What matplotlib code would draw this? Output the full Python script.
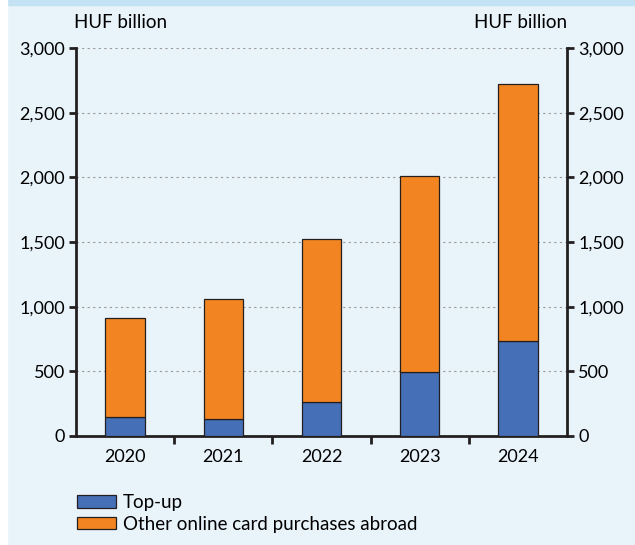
import numpy as np
import matplotlib.pyplot as plt
from matplotlib.patches import Patch

years = ['2020', '2021', '2022', '2023', '2024']
topup = [150, 130, 262, 495, 738]
total = [910, 1057, 1522, 2008, 2723]
other = [t - u for t, u in zip(total, topup)]

bg = '#E8F3FA'
blue = '#4570B8'
orange = '#F28522'
dark = '#231F20'

plt.rcParams['font.family'] = ['Lato', 'DejaVu Sans']
plt.rcParams['font.size'] = 13

fig = plt.figure(figsize=(6.35, 5.45), dpi=100, facecolor=bg)
# top band and white left margin
fig.add_artist(plt.Rectangle((0, 1 - 5/545), 1, 5/545, transform=fig.transFigure,
                             color='#C3E2F3', zorder=0))
fig.add_artist(plt.Rectangle((0, 0), 7/635, 1, transform=fig.transFigure,
                             color='white', zorder=0))

ax = fig.add_axes([76/635, 109/545, 491/635, 388/545])
ax.set_facecolor(bg)

x = np.arange(len(years))
ax.bar(x, topup, width=0.4, color=blue, edgecolor=dark, linewidth=0.9, zorder=3)
ax.bar(x, other, width=0.4, bottom=topup, color=orange, edgecolor=dark, linewidth=0.9, zorder=3)

ax.set_xlim(-0.5, 4.5)
ax.set_ylim(0, 3000)
yt = np.arange(0, 3001, 500)
ax.set_yticks(yt)
ax.set_yticklabels([f'{v:,}' for v in yt])
for v in yt[1:]:
    ax.axhline(v, color='#9A9A9A', linestyle=(0, (2, 3)), linewidth=0.8, zorder=1)

ax.set_xticks(x)
ax.set_xticklabels(years)
ax.tick_params(axis='x', which='major', length=0, pad=9)
ax.set_xticks(np.arange(0.5, 4.5, 1), minor=True)
ax.tick_params(axis='x', which='minor', length=6, width=2, color=dark, direction='out')
ax.tick_params(axis='y', length=5, width=2, color=dark, direction='out', pad=3)

for s in ['left', 'right', 'bottom']:
    ax.spines[s].set_linewidth(2)
    ax.spines[s].set_color(dark)
ax.spines['top'].set_visible(False)

ax2 = ax.twinx()
ax2.set_ylim(0, 3000)
ax2.set_yticks(yt)
ax2.set_yticklabels([f'{v:,}' for v in yt])
ax2.tick_params(axis='y', length=5, width=2, color=dark, direction='out', pad=3)
for s in ['left', 'right', 'top', 'bottom']:
    ax2.spines[s].set_visible(False)

fig.text(121/635, 1 - 23/545, 'HUF billion', ha='center', va='center', fontsize=13.5)
fig.text(521/635, 1 - 23/545, 'HUF billion', ha='center', va='center', fontsize=13.5)

handles = [Patch(facecolor=blue, edgecolor=dark, linewidth=0.9, label='Top-up'),
           Patch(facecolor=orange, edgecolor=dark, linewidth=0.9, label='Other online card purchases abroad')]
fig.legend(handles=handles, loc='upper left', bbox_to_anchor=(77/635, 1 - 494/545),
           frameon=False, handlelength=2.08, handleheight=0.64, handletextpad=0.37,
           labelspacing=0.25, fontsize=13.5, borderaxespad=0, borderpad=0)

fig.savefig('out.png', dpi=100, facecolor=bg)
